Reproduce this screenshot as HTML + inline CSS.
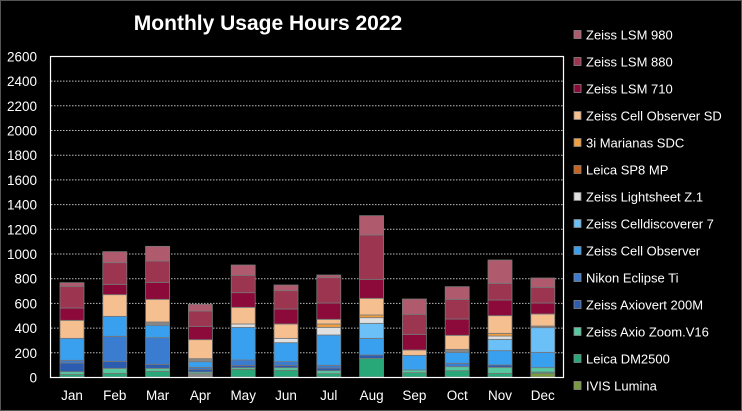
<!DOCTYPE html>
<html><head><meta charset="utf-8"><style>
html,body{margin:0;padding:0;background:#000;}
body{width:742px;height:411px;overflow:hidden;}
svg{display:block;font-family:"Liberation Sans",sans-serif;}
</style></head><body>
<svg id="s" width="742" height="411" xmlns="http://www.w3.org/2000/svg">
<rect x="0" y="0" width="742" height="411" fill="#000"/>
<rect x="0.5" y="0.5" width="741" height="410" fill="none" stroke="#555" stroke-width="1"/>
<text x="268" y="30" fill="#fff" font-size="21" font-weight="bold" text-anchor="middle">Monthly Usage Hours 2022</text>
<g id="grid"></g>
<g id="bars"></g>
<rect x="50.5" y="56.5" width="513" height="321" fill="none" stroke="#fff" stroke-width="1.2"/>
<g id="leg"></g>
</svg>
<script>
const NS="http://www.w3.org/2000/svg";
function el(t,a,p,txt){const e=document.createElementNS(NS,t);for(const k in a)e.setAttribute(k,a[k]);if(txt!==undefined)e.textContent=txt;p.appendChild(e);return e;}
const s=document.getElementById('s'),g=document.getElementById('grid'),b=document.getElementById('bars'),lg=document.getElementById('leg');
const y0=377.5,step=24.7;
for(let i=0;i<=13;i++){const y=y0-i*step;
 if(i>0&&i<13)el('line',{x1:51,x2:563,y1:y,y2:y,stroke:'#bbb','stroke-width':1,'stroke-dasharray':'1.5,1.5'},g);
 el('text',{x:37,y:y+5,fill:'#fff','font-size':13.5,'text-anchor':'end'},g,String(i*200));}
const C={ivis:'#7a9a40',dm:'#28a878',zoom:'#58c8a0',axv:'#2c5cb0',nik:'#3a7cd0',co:'#38a0ee',cd:'#6cc0f8',ls:'#e0e0e0',sp8:'#c8641e',mar:'#f0a040',sd:'#f6bf90',l710:'#8b0a3a',l880:'#9c3550',l980:'#b05a6e',gray:'#888'};
const D=[
[['dm',523],['zoom',515],['axv',489],['nik',481],['co',415],['sd',361],['l710',324],['l880',259],['l980',248]],
[['dm',520],['zoom',505],['axv',484],['nik',409],['co',349],['sd',284],['l710',253],['l880',188],['l980',155]],
[['dm',514],['zoom',505],['axv',493],['nik',413],['co',376],['gray',366],['sd',298],['l710',247],['l880',183],['l980',139]],
[['gray',521],['zoom',516],['axv',508],['nik',502],['co',485],['gray',476],['sd',419],['l710',379],['l880',333],['l980',313]],
[['dm',508],['zoom',503],['axv',496],['nik',480],['co',382],['ls',372],['sd',322],['l710',278],['l880',226],['l980',195]],
[['dm',511],['zoom',503],['axv',496],['nik',485],['co',428],['ls',415],['sd',372],['l710',327],['l880',272],['l980',255]],
[['dm',521],['zoom',512],['axv',504],['nik',496],['co',405],['ls',382],['mar',372],['sd',358],['l710',309],['l880',233],['l980',225]],
[['dm',475],['axv',465],['co',415],['cd',370],['ls',353],['mar',345],['sd',295],['l710',238],['l880',105],['l980',47]],
[['dm',518],['zoom',510],['co',466],['sd',450],['l710',403],['l880',343],['l980',297]],
[['dm',512],['zoom',500],['nik',490],['co',457],['gray',448],['sd',406],['l710',357],['l880',298],['l980',260]],
[['dm',520],['zoom',502],['axv',495],['co',452],['cd',418],['ls',408],['mar',400],['sd',347],['l710',300],['l880',250],['l980',180]],
[['ivis',520],['dm',516],['zoom',503],['co',457],['cd',383],['gray',378],['sd',342],['l710',309],['l880',262],['l980',234]]];
const M=['Jan','Feb','Mar','Apr','May','Jun','Jul','Aug','Sep','Oct','Nov','Dec'];
D.forEach((bar,i)=>{const x=60+i*42.8;let prev=531;
 bar.forEach(([c,z])=>{const yt=200+z/3,yb=200+prev/3;
  el('rect',{x:x,y:yt,width:24,height:yb-yt,fill:C[c],stroke:'#777','stroke-width':0.8},b);prev=z;});
 el('text',{x:x+12,y:400,fill:'#fff','font-size':13.5,'text-anchor':'middle'},b,M[i]);});
const L=[['l980','Zeiss LSM 980'],['l880','Zeiss LSM 880'],['l710','Zeiss LSM 710'],['sd','Zeiss Cell Observer SD'],['mar','3i Marianas SDC'],['sp8','Leica SP8 MP'],['ls','Zeiss Lightsheet Z.1'],['cd','Zeiss Celldiscoverer 7'],['co','Zeiss Cell Observer'],['nik','Nikon Eclipse Ti'],['axv','Zeiss Axiovert 200M'],['zoom','Zeiss Axio Zoom.V16'],['dm','Leica DM2500'],['ivis','IVIS Lumina']];
L.forEach(([c,t],i)=>{const y=34.5+i*27;
 el('rect',{x:574,y:y-4,width:7,height:8,fill:C[c],stroke:'#888','stroke-width':0.8},lg);
 el('text',{x:586,y:y+5,fill:'#fff','font-size':13},lg,t);});
</script>
</body></html>
